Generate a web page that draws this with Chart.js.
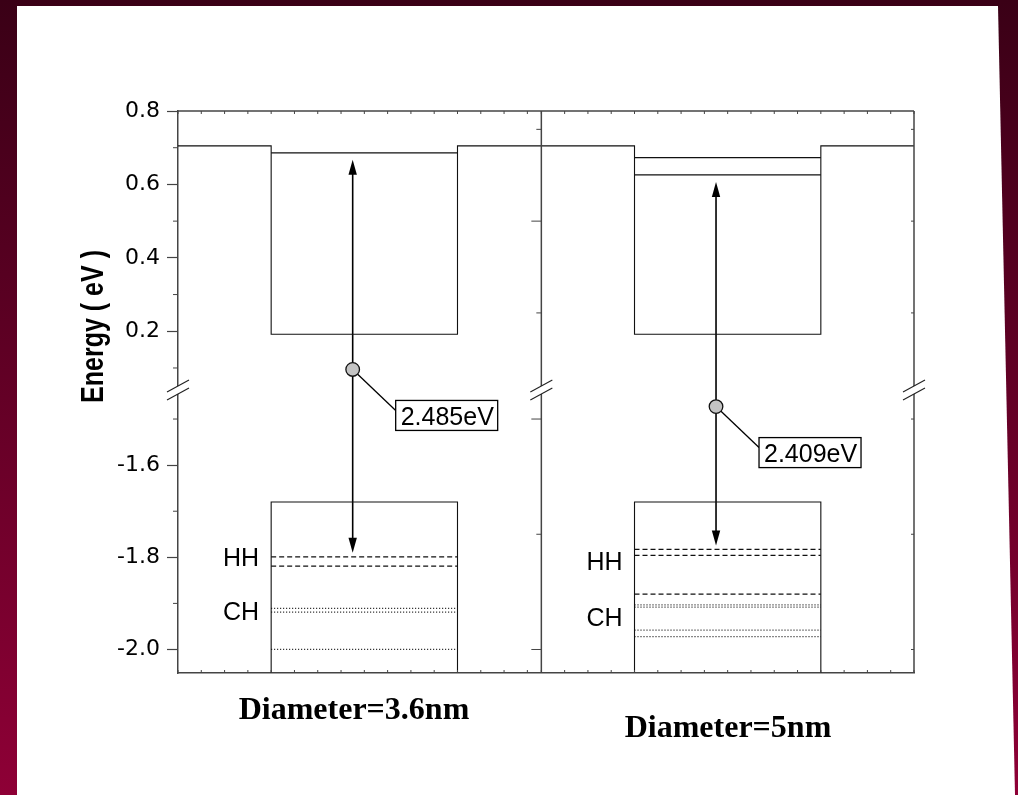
<!DOCTYPE html>
<html>
<head>
<meta charset="utf-8">
<title>Quantum dot band diagram</title>
<script src="https://cdn.jsdelivr.net/npm/chart.js@4.4.1/dist/chart.umd.min.js"></script>
<style>
  html, body { margin: 0; padding: 0; background: #ffffff; }
  canvas { display: block; }
</style>
</head>
<body>
<canvas id="bands" width="1018" height="795"></canvas>
<script>
// ---------------- data (energies in eV, x in tick units across the dot) ----------------
const panelEdges = [0, 15.6, 31.6];              // panel A | panel B
const wellEdgesA = [4, 12];
const wellEdgesB = [19.6, 27.6];
const conductionBarrier = [0.705, 0.705];        // CB edge outside the dot (A, B)
const conductionWell = [0.192, 0.192];           // CB edge inside the dot
const valenceWell = [-1.68, -1.68];              // VB edge inside the dot
const electronLevelsA = [0.686];
const electronLevelsB = [0.673, 0.626];
const heavyHoleLevelsA = [-1.799, -1.819];
const heavyHoleLevelsB = [-1.783, -1.796, -1.880];
const splitOffLevelsA = [-1.911, -1.919, -2.000];
const splitOffLevelsB = [-1.903, -1.908, -1.958, -1.972];
const transitionEnergy = [2.485, 2.409];         // e1 -> hh1 (eV)
const transitionFrom = [electronLevelsA[0], electronLevelsB[1]];
const transitionX = [7.5, 23.1];
const markerEnergy = [0.096, -1.473];
const diameterTitles = ['Diameter=3.6nm', 'Diameter=5nm'];
const upperRange = [0.04, 0.8];                  // axis break splits the energy axis
const lowerRange = [-2.051, -1.437];
const upperTicks = [0.2, 0.4, 0.6, 0.8];
const lowerTicks = [-2.0, -1.8, -1.6];
const upperMinorTicks = [0.1, 0.3, 0.5, 0.7];
const lowerMinorTicks = [-1.5, -1.7, -1.9];
const panelBMajorTicks = [0.5, -1.5, -2.0];
const panelBMinorTicks = [0.25, 0.75, -1.75];
const xTicksA = [0, 1, 2, 3, 4, 5, 6, 7, 8, 9, 10, 11, 12, 13, 14, 15];
const xTicksB = [15.6, 16.6, 17.6, 18.6, 19.6, 20.6, 21.6, 22.6, 23.6, 24.6, 25.6, 26.6, 27.6, 28.6, 29.6, 30.6, 31.6];

// ---------------- styles ----------------
const AXIS = '#444444';
const INK = '#111111';
const DASH = [5, 3];
const DOT = [1, 2];
const axisFor = v => (v >= upperRange[0] ? 'yUpper' : 'yLower');

function segment(x0, x1, y, dash) {
  return {
    data: [{ x: x0, y: y }, { x: x1, y: y }],
    yAxisID: axisFor(y),
    showLine: true, borderColor: INK, borderWidth: dash ? 1.25 : 1.1,
    borderDash: dash || [], pointRadius: 0
  };
}
function profile(points, axis) {
  return { data: points, yAxisID: axis, showLine: true, borderColor: INK,
           borderWidth: 1.1, pointRadius: 0 };
}
function conductionProfile(edges, well, i) {
  return profile([
    { x: edges[0], y: conductionBarrier[i] }, { x: well[0], y: conductionBarrier[i] },
    { x: well[0], y: conductionWell[i] }, { x: well[1], y: conductionWell[i] },
    { x: well[1], y: conductionBarrier[i] }, { x: edges[1], y: conductionBarrier[i] }
  ], 'yUpper');
}
function valenceProfile(well, i) {
  return profile([
    { x: well[0], y: lowerRange[0] }, { x: well[0], y: valenceWell[i] },
    { x: well[1], y: valenceWell[i] }, { x: well[1], y: lowerRange[0] }
  ], 'yLower');
}

const datasets = [
  conductionProfile([panelEdges[0], panelEdges[1]], wellEdgesA, 0),
  conductionProfile([panelEdges[1], panelEdges[2]], wellEdgesB, 1),
  valenceProfile(wellEdgesA, 0),
  valenceProfile(wellEdgesB, 1),
  ...electronLevelsA.map(e => segment(wellEdgesA[0], wellEdgesA[1], e)),
  ...electronLevelsB.map(e => segment(wellEdgesB[0], wellEdgesB[1], e)),
  ...heavyHoleLevelsA.map(e => segment(wellEdgesA[0], wellEdgesA[1], e, DASH)),
  ...heavyHoleLevelsB.map(e => segment(wellEdgesB[0], wellEdgesB[1], e, DASH)),
  ...splitOffLevelsA.map(e => segment(wellEdgesA[0], wellEdgesA[1], e, DOT)),
  ...splitOffLevelsB.map(e => segment(wellEdgesB[0], wellEdgesB[1], e, DOT)),
  ...markerEnergy.map((e, i) => ({
    data: [{ x: transitionX[i], y: e }], yAxisID: axisFor(e), showLine: false,
    pointRadius: 6.8, pointBackgroundColor: '#c4c4c4', pointBorderColor: '#111',
    pointBorderWidth: 1.3
  }))
];

// ---------------- layout of texts and annotation pieces ----------------
const ARROW = { gapTop: 7, gapBottom: 4, head: 15, half: 4.2 };
const CALLOUT = { dx: 43, dy: 31, w: 102, h: 30, join: 10 };
const levelLabels = [
  { text: 'HH', well: wellEdgesA, at: -1.818 },
  { text: 'CH', well: wellEdgesA, at: -1.937 },
  { text: 'HH', well: wellEdgesB, at: -1.828 },
  { text: 'CH', well: wellEdgesB, at: -1.949 }
];
const titlePlacement = [{ cx: 354, base: 719 }, { cx: 728, base: 737 }];
const axisTitle = { text: 'Energy ( eV )', baseX: 103, cy: 326.5, length: 153 };

function stroke(ctx, x0, y0, x1, y1) {
  ctx.beginPath(); ctx.moveTo(x0, y0); ctx.lineTo(x1, y1); ctx.stroke();
}

// page background: dark red frame around a white sheet
const sheet = {
  id: 'sheet',
  beforeDraw(chart) {
    const { ctx, width, height } = chart;
    ctx.save();
    const g = ctx.createLinearGradient(0, 0, 0, height);
    g.addColorStop(0, '#3a0016');
    g.addColorStop(1, '#8e0036');
    ctx.fillStyle = g;
    ctx.fillRect(0, 0, width, height);
    ctx.fillStyle = '#ffffff';
    ctx.beginPath();
    ctx.moveTo(17, 6); ctx.lineTo(998, 6); ctx.lineTo(1015, height); ctx.lineTo(17, height);
    ctx.closePath(); ctx.fill();
    ctx.restore();
  }
};

// transition arrows and callout leaders sit under the markers
const transitions = {
  id: 'transitions',
  beforeDatasetsDraw(chart) {
    const { ctx, scales } = chart;
    const x = scales.x;
    ctx.save();
    transitionEnergy.forEach((dE, i) => {
      const px = x.getPixelForValue(transitionX[i]);
      const y0 = scales.yUpper.getPixelForValue(transitionFrom[i]) + ARROW.gapTop;
      const y1 = scales[axisFor(transitionFrom[i] - dE)].getPixelForValue(transitionFrom[i] - dE) - ARROW.gapBottom;
      ctx.strokeStyle = '#000'; ctx.lineWidth = 1.6;
      stroke(ctx, px, y0 + ARROW.head - 2, px, y1 - ARROW.head + 2);
      ctx.fillStyle = '#000';
      ctx.beginPath();
      ctx.moveTo(px, y0); ctx.lineTo(px - ARROW.half, y0 + ARROW.head); ctx.lineTo(px + ARROW.half, y0 + ARROW.head);
      ctx.closePath(); ctx.fill();
      ctx.beginPath();
      ctx.moveTo(px, y1); ctx.lineTo(px - ARROW.half, y1 - ARROW.head); ctx.lineTo(px + ARROW.half, y1 - ARROW.head);
      ctx.closePath(); ctx.fill();
      const my = scales[axisFor(markerEnergy[i])].getPixelForValue(markerEnergy[i]);
      ctx.lineWidth = 1.3;
      stroke(ctx, px, my, px + CALLOUT.dx, my + CALLOUT.dy + CALLOUT.join);
    });
    ctx.restore();
  },
  afterDatasetsDraw(chart) {
    const { ctx, scales, chartArea: a } = chart;
    const x = scales.x, yU = scales.yUpper, yL = scales.yLower;
    const py = v => scales[axisFor(v)].getPixelForValue(v);
    ctx.save();

    // frame: top edge, panel divider, right edge
    const xd = x.getPixelForValue(panelEdges[1]);
    const xr = x.getPixelForValue(panelEdges[2]);
    ctx.strokeStyle = AXIS; ctx.lineWidth = 1.5;
    stroke(ctx, a.left, a.top, a.right, a.top);
    stroke(ctx, xd, a.top, xd, a.bottom);
    stroke(ctx, xr, a.top, xr, a.bottom);

    // small inward ticks on top and bottom edges
    ctx.lineWidth = 1;
    xTicksA.concat(xTicksB).forEach(v => {
      const px = x.getPixelForValue(v);
      stroke(ctx, px, a.top, px, a.top + 3);
      stroke(ctx, px, a.bottom, px, a.bottom - 3);
    });
    // minor ticks on the left energy axis
    upperMinorTicks.concat(lowerMinorTicks).forEach(v => {
      const p = py(v); stroke(ctx, a.left - 5, p, a.left, p);
    });
    // panel B axis ticks (divider) and mirrored ticks on the right edge
    panelBMajorTicks.forEach(v => {
      const p = py(v); stroke(ctx, xd - 10, p, xd, p); stroke(ctx, xr - 3, p, xr, p);
    });
    panelBMinorTicks.forEach(v => {
      const p = py(v); stroke(ctx, xd - 5, p, xd, p); stroke(ctx, xr - 3, p, xr, p);
    });

    // axis break marks where the two energy ranges meet
    const yb = yU.bottom;
    [a.left, xd, xr].forEach(px => {
      ctx.fillStyle = '#ffffff';
      ctx.fillRect(px - 2, yb - 4, 4, 8);
      ctx.strokeStyle = '#222'; ctx.lineWidth = 1.1;
      stroke(ctx, px - 11, yb + 2, px + 11, yb - 10);
      stroke(ctx, px - 11, yb + 10, px + 11, yb - 2);
    });

    // callout boxes with the transition energies
    ctx.font = '25px "Liberation Sans", Arial, sans-serif';
    ctx.textAlign = 'left'; ctx.textBaseline = 'alphabetic';
    transitionEnergy.forEach((dE, i) => {
      const px = x.getPixelForValue(transitionX[i]);
      const my = py(markerEnergy[i]);
      const bx = px + CALLOUT.dx, by = my + CALLOUT.dy;
      ctx.fillStyle = '#ffffff';
      ctx.fillRect(bx, by, CALLOUT.w, CALLOUT.h);
      ctx.strokeStyle = '#000'; ctx.lineWidth = 1.3;
      ctx.strokeRect(bx, by, CALLOUT.w, CALLOUT.h);
      ctx.fillStyle = '#000';
      ctx.fillText(dE.toFixed(3) + 'eV', bx + 5, by + 24.5);
    });

    // HH / CH level labels
    ctx.textAlign = 'right';
    levelLabels.forEach(l => {
      ctx.fillText(l.text, x.getPixelForValue(l.well[0]) - 12, yL.getPixelForValue(l.at));
    });

    // panel titles
    ctx.font = 'bold 32px "Liberation Serif", "Times New Roman", serif';
    ctx.textAlign = 'center';
    diameterTitles.forEach((t, i) => ctx.fillText(t, titlePlacement[i].cx, titlePlacement[i].base));

    // energy axis title, condensed along its length
    ctx.save();
    ctx.font = 'bold 31px "Liberation Sans", Arial, sans-serif';
    const w = ctx.measureText(axisTitle.text).width;
    ctx.translate(axisTitle.baseX, axisTitle.cy);
    ctx.rotate(-Math.PI / 2);
    ctx.scale(axisTitle.length / w, 1);
    ctx.textAlign = 'center';
    ctx.fillText(axisTitle.text, 0, 0);
    ctx.restore();

    ctx.restore();
  }
};

const tickFont = { family: '"DejaVu Sans", sans-serif', size: 22 };
function energyAxis(range, ticks, weight, stackWeight) {
  return {
    type: 'linear', position: 'left', stack: 'energy', stackWeight: stackWeight, weight: weight,
    min: range[0], max: range[1],
    afterBuildTicks: s => { s.ticks = ticks.map(v => ({ value: v })); },
    afterFit: s => { s.width = 178; },
    ticks: { font: tickFont, color: '#000', padding: 7, callback: v => Number(v).toFixed(1) },
    grid: { display: true, drawOnChartArea: false, drawTicks: true, tickLength: 11, tickColor: AXIS, tickWidth: 1.2 },
    border: { display: true, color: AXIS, width: 1.5 }
  };
}

new Chart(document.getElementById('bands'), {
  type: 'scatter',
  data: { datasets: datasets },
  options: {
    responsive: false, animation: false, events: [], devicePixelRatio: 1,
    layout: { padding: { left: 0, top: 111, right: 104, bottom: 0 } },
    elements: { line: { tension: 0 } },
    plugins: { legend: { display: false }, tooltip: { enabled: false } },
    scales: {
      x: {
        type: 'linear', position: 'bottom', min: panelEdges[0], max: panelEdges[2],
        afterFit: s => { s.height = 122; },
        ticks: { display: false },
        grid: { display: false, drawTicks: false },
        border: { display: true, color: AXIS, width: 1.5 }
      },
      yUpper: energyAxis(upperRange, upperTicks, 1, 279),
      yLower: energyAxis(lowerRange, lowerTicks, 0, 283)
    }
  },
  plugins: [sheet, transitions]
});
</script>
</body>
</html>
